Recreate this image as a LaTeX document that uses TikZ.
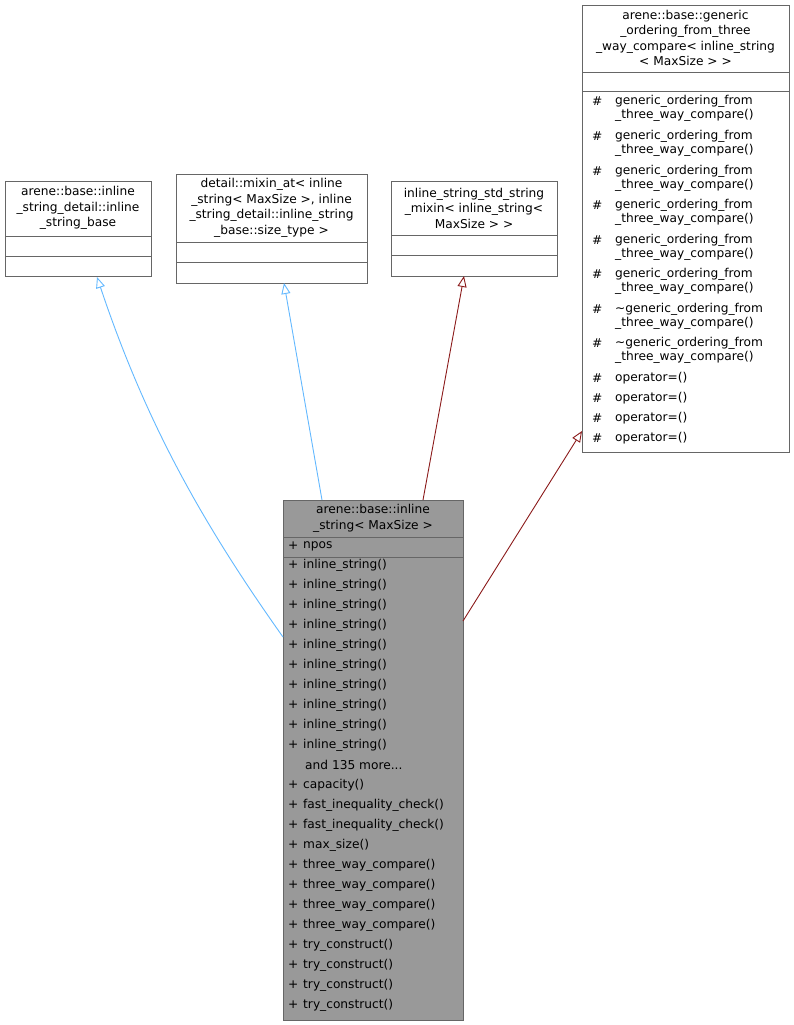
\documentclass[tikz,border=0pt]{standalone}
\usepackage{fontspec}
\setmainfont{DejaVu Sans}
\usetikzlibrary{arrows.meta}
\definecolor{lblue}{HTML}{63B8FF}
\definecolor{dred}{HTML}{8B1A1A}
\definecolor{bord}{HTML}{666666}
\begin{document}
\begin{tikzpicture}[x=1pt,y=-1pt,
  txt/.style={inner sep=0pt,font=\fontsize{12.2}{15}\selectfont,anchor=west},
  ttl/.style={inner sep=0pt,font=\fontsize{12.2}{15.5}\selectfont,align=center},
  bx/.style={draw=bord,line width=0.8pt},
  inh/.style={-{Triangle[open,length=11pt,width=9pt]},line width=0.9pt}]
\useasboundingbox (0,0) rectangle (794,1025);
% box 1
\node[bx,minimum width=146pt,minimum height=95pt,anchor=north west,inner sep=0pt] (b1) at (5,181) {};
\draw[bord,line width=0.8pt] (5,236)--(151,236) (5,256)--(151,256);
\node[ttl] (t1) at (78,208) {arene::base::inline\\\_string\_detail::inline\\\_string\_base};
% box 2
\node[bx,minimum width=191pt,minimum height=109pt,anchor=north west,inner sep=0pt] (b2) at (176,174) {};
\draw[bord,line width=0.8pt] (176,242)--(367,242) (176,262)--(367,262);
\node[ttl] (t2) at (271.5,208) {detail::mixin\_at< inline\\\_string< MaxSize >, inline\\\_string\_detail::inline\_string\\\_base::size\_type >};
% box 3
\node[bx,minimum width=166pt,minimum height=95pt,anchor=north west,inner sep=0pt] (b3) at (391,181) {};
\draw[bord,line width=0.8pt] (391,235)--(557,235) (391,255)--(557,255);
\node[ttl] (t3) at (474,208) {inline\_string\_std\_string\\\_mixin< inline\_string<\\MaxSize > >};
% box 4
\node[bx,minimum width=207pt,minimum height=447pt,anchor=north west,inner sep=0pt] (b4) at (582,5) {};
\draw[bord,line width=0.8pt] (582,72)--(789,72) (582,91)--(789,91);
\node[ttl] (t4) at (685.5,38) {arene::base::generic\\\_ordering\_from\_three\\\_way\_compare< inline\_string\\< MaxSize > >};
\foreach \y/\a/\b [count=\i] in {101/generic\_ordering\_from/\_three\_way\_compare(),136/generic\_ordering\_from/\_three\_way\_compare(),171/generic\_ordering\_from/\_three\_way\_compare(),205/generic\_ordering\_from/\_three\_way\_compare(),240/generic\_ordering\_from/\_three\_way\_compare(),274/generic\_ordering\_from/\_three\_way\_compare(),309/\textasciitilde generic\_ordering\_from/\_three\_way\_compare(),343/\textasciitilde generic\_ordering\_from/\_three\_way\_compare()}{
  \node[txt] (h\i) at (592,\y) {\#};
  \node[txt] (m\i) at (615,\y) {\a};
  \node[txt] (n\i) at (615,\y+14) {\b};
}
\foreach \y [count=\i] in {378,398,418,438}{
  \node[txt] (hh\i) at (592,\y) {\#};
  \node[txt] (oo\i) at (615,\y) {operator=()};
}
% main box
\node[bx,fill=black!40,minimum width=180pt,minimum height=520pt,anchor=north west,inner sep=0pt] (b5) at (283,500) {};
\draw[bord,line width=0.8pt] (283,537)--(463,537) (283,557)--(463,557);
\node[ttl] (t5) at (373,518.5) {arene::base::inline\\\_string< MaxSize >};
\node[txt] (p0) at (288,546) {+};
\node[txt] (np) at (303,546) {npos};
\foreach \y/\s [count=\i] in {565/inline\_string(),585/inline\_string(),605/inline\_string(),625/inline\_string(),645/inline\_string(),665/inline\_string(),685/inline\_string(),705/inline\_string(),725/inline\_string(),745/inline\_string(),785/capacity(),805/fast\_inequality\_check(),825/fast\_inequality\_check(),845/max\_size(),865/three\_way\_compare(),885/three\_way\_compare(),905/three\_way\_compare(),925/three\_way\_compare(),945/try\_construct(),965/try\_construct(),985/try\_construct(),1005/try\_construct()}{
  \node[txt] (pp\i) at (288,\y) {+};
  \node[txt] (mm\i) at (303,\y) {\s};
}
\node[txt] (more) at (305,765) {and 135 more...};
% edges
\coordinate (e1s) at (283,637);
\coordinate (e1e) at (97,277);
\draw[inh,lblue] (e1s) .. controls (200,520) and (145,420) .. (e1e);
\coordinate (e2s) at (322,500);
\coordinate (e2e) at (284,283);
\draw[inh,lblue] (e2s) -- (e2e);
\coordinate (e3s) at (423,500);
\coordinate (e3e) at (464,276);
\draw[inh,dred] (e3s) -- (e3e);
\coordinate (e4s) at (463,621);
\coordinate (e4e) at (582,431);
\draw[inh,dred] (e4s) -- (e4e);
\end{tikzpicture}
\end{document}
